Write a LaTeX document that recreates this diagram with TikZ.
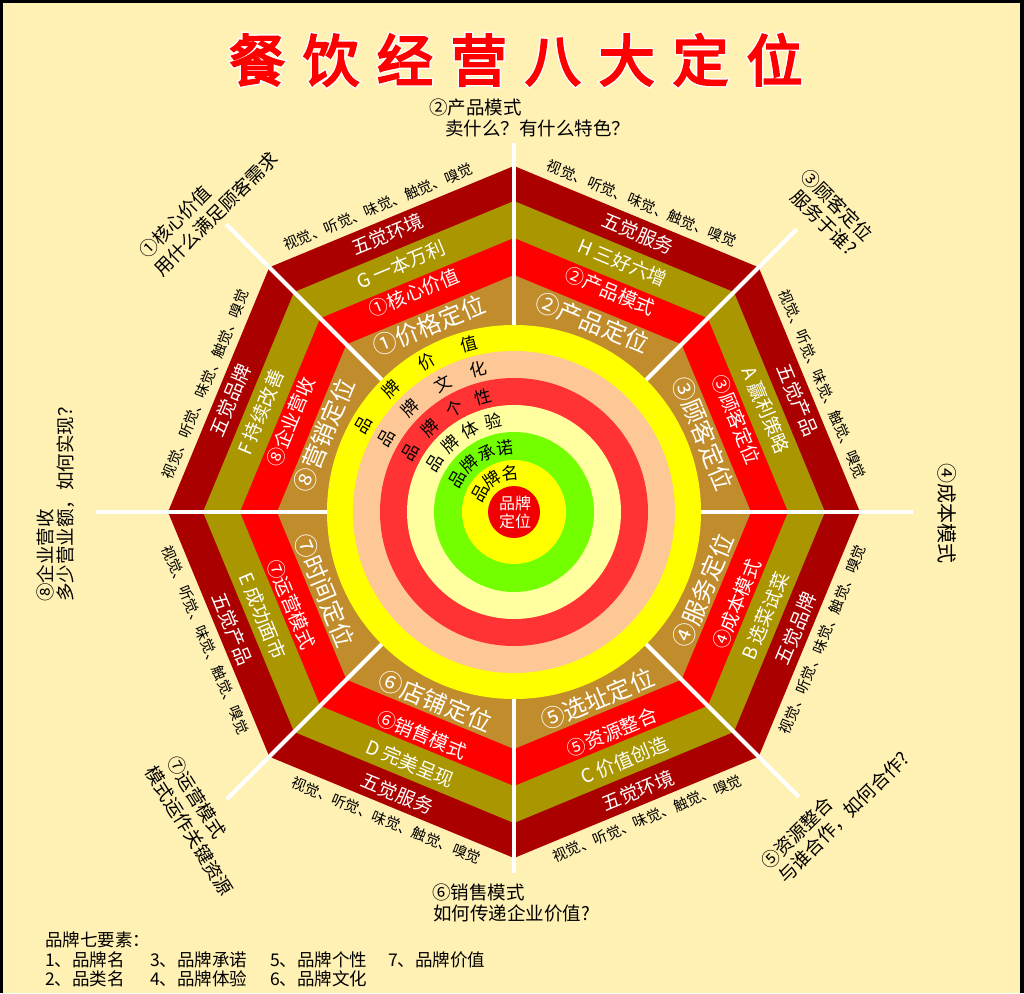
\documentclass[tikz,border=0pt]{standalone}
\usepackage{fontspec}
\usepackage{tikz}
\newfontfamily\cjk{Noto Sans CJK SC}
\newfontfamily\cjktitle{Noto Sans CJK SC}[FakeBold=4,LetterSpace=32]
\newfontfamily\cjkrim{Noto Sans CJK SC}[FakeBold=9,LetterSpace=32]

\definecolor{bg_cream}{RGB}{255,240,180}
\definecolor{band_dark}{RGB}{170,0,0}
\definecolor{band_olive}{RGB}{170,150,0}
\definecolor{band_red}{RGB}{255,0,0}
\definecolor{band_tan}{RGB}{193,140,44}
\definecolor{ring_yellow}{RGB}{255,255,0}
\definecolor{ring_peach}{RGB}{253,200,150}
\definecolor{ring_red}{RGB}{255,51,51}
\definecolor{ring_pale}{RGB}{255,255,160}
\definecolor{ring_green}{RGB}{115,255,0}
\definecolor{core_red}{RGB}{240,0,0}

\begin{document}
\begin{tikzpicture}[x=1pt, y=1pt,
        band_text/.style={text=white, inner sep=0pt, font=\cjk\fontsize{19}{19}\selectfont},
        tan_text/.style={text=white, inner sep=0pt, font=\cjk\fontsize{24}{24}\selectfont},
        sense_text/.style={text=black, inner sep=0pt, font=\cjk\fontsize{14.5}{15}\selectfont},
        ring_text/.style={text=black, inner sep=0pt, font=\cjk\fontsize{17}{17}\selectfont},
        label_text/.style={text=black, inner sep=0pt, anchor=west, font=\cjk\fontsize{18.5}{19}\selectfont},
        list_text/.style={text=black, inner sep=0pt, anchor=west, font=\cjk\fontsize{17.5}{18}\selectfont},
        spoke_style/.style={draw=white, line width=4pt}]

        \useasboundingbox (-514,-481) rectangle (510,512);
        \fill [black] (-514,-481) rectangle (510,512);
        \fill [bg_cream] (-511,-481) rectangle (506,509);

        % title
        \node [inner sep=0pt, anchor=west, text=white, font=\cjkrim\fontsize{56}{56}\selectfont] (title_rim) at (-285,452) {餐饮经营八大定位};
        \node [inner sep=0pt, anchor=west, text=red, font=\cjktitle\fontsize{56}{56}\selectfont] (title) at (-285,452) {餐饮经营八大定位};

        % octagon bands
        \fill [band_dark] (0:346) -- (45:346) -- (90:346) -- (135:346) -- (180:346) -- (225:346) -- (270:346) -- (315:346) -- cycle;
        \fill [band_olive] (0:311) -- (45:311) -- (90:311) -- (135:311) -- (180:311) -- (225:311) -- (270:311) -- (315:311) -- cycle;
        \fill [band_red] (0:274) -- (45:274) -- (90:274) -- (135:274) -- (180:274) -- (225:274) -- (270:274) -- (315:274) -- cycle;
        \fill [band_tan] (0:237) -- (45:237) -- (90:237) -- (135:237) -- (180:237) -- (225:237) -- (270:237) -- (315:237) -- cycle;

        % spokes
        \draw [spoke_style] (0:180) -- (0:399);
        \draw [spoke_style] (45:180) -- (45:400);
        \draw [spoke_style] (90:180) -- (90:369);
        \draw [spoke_style] (135:180) -- (135:407);
        \draw [spoke_style] (180:180) -- (180:418);
        \draw [spoke_style] (225:180) -- (225:406);
        \draw [spoke_style] (270:180) -- (270:361);
        \draw [spoke_style] (315:180) -- (315:403);

        % rings
        \fill [ring_yellow] (0,0) circle (187);
        \fill [ring_peach] (0,0) circle (161);
        \fill [ring_red] (0,0) circle (134);
        \fill [ring_pale] (0,0) circle (107);
        \fill [ring_green] (0,0) circle (80);
        \fill [ring_yellow] (0,0) circle (52);
        \fill [core_red] (0,0) circle (26);

        % band texts
        \node [sense_text, rotate=22.5] (sense1) at (114:334) {视觉、听觉、味觉、触觉、嗅觉};
        \node [band_text, rotate=22.5] (dark1) at (114.5:305) {五觉环境};
        \node [band_text, rotate=22.5] (olive1) at (114.5:272) {G 一本万利};
        \node [band_text, rotate=22.5] (red1) at (114.5:241) {①核心价值};
        \node [tan_text, rotate=22.5] (tan1) at (114.5:205) {①价格定位};

        \node [sense_text, rotate=-22.5] (sense2) at (67.5:334) {视觉、听觉、味觉、触觉、嗅觉};
        \node [band_text, rotate=-22.5] (dark2) at (66:305) {五觉服务};
        \node [band_text, rotate=-22.5] (olive2) at (66.5:272) {H 三好六增};
        \node [band_text, rotate=-22.5] (red2) at (66.5:241) {②产品模式};
        \node [tan_text, rotate=-22.5] (tan2) at (67.5:205) {②产品定位};

        \node [sense_text, rotate=-67.5] (sense3) at (22.5:334) {视觉、听觉、味觉、触觉、嗅觉};
        \node [band_text, rotate=-67.5] (dark3) at (21.5:305) {五觉产品};
        \node [band_text, rotate=-67.5] (olive3) at (22:272) {A 赢利策略};
        \node [band_text, rotate=-67.5] (red3) at (22.5:241) {③顾客定位};
        \node [tan_text, rotate=-67.5] (tan3) at (22.5:205) {③顾客定位};

        \node [sense_text, rotate=67.5] (sense4) at (-22.5:334) {视觉、听觉、味觉、触觉、嗅觉};
        \node [band_text, rotate=67.5] (dark4) at (-22.5:305) {五觉品牌};
        \node [band_text, rotate=67.5] (olive4) at (-22.5:272) {B 选菜试菜};
        \node [band_text, rotate=67.5] (red4) at (-22.5:241) {④成本模式};
        \node [tan_text, rotate=67.5] (tan4) at (-22.5:205) {④服务定位};

        \node [sense_text, rotate=22.5] (sense5) at (-66.5:334) {视觉、听觉、味觉、触觉、嗅觉};
        \node [band_text, rotate=22.5] (dark5) at (-66:305) {五觉环境};
        \node [band_text, rotate=22.5] (olive5) at (-66:272) {C 价值创造};
        \node [band_text, rotate=22.5] (red5) at (-66:241) {⑤资源整合};
        \node [tan_text, rotate=22.5] (tan5) at (-66:205) {⑤选址定位};

        \node [sense_text, rotate=-22.5] (sense6) at (-112.5:334) {视觉、听觉、味觉、触觉、嗅觉};
        \node [band_text, rotate=-22.5] (dark6) at (-112.5:305) {五觉服务};
        \node [band_text, rotate=-22.5] (olive6) at (-112.5:272) {D 完美呈现};
        \node [band_text, rotate=-22.5] (red6) at (-112.5:241) {⑥销售模式};
        \node [tan_text, rotate=-22.5] (tan6) at (-112.5:205) {⑥店铺定位};

        \node [sense_text, rotate=-67.5] (sense7) at (-157.5:334) {视觉、听觉、味觉、触觉、嗅觉};
        \node [band_text, rotate=-67.5] (dark7) at (-157.5:305) {五觉产品};
        \node [band_text, rotate=-67.5] (olive7) at (-157.5:272) {E 成功面市};
        \node [band_text, rotate=-67.5] (red7) at (-157.5:241) {⑦运营模式};
        \node [tan_text, rotate=-67.5] (tan7) at (-157.5:205) {⑦时间定位};

        \node [sense_text, rotate=67.5] (sense8) at (157.5:334) {视觉、听觉、味觉、触觉、嗅觉};
        \node [band_text, rotate=67.5] (dark8) at (158.5:305) {五觉品牌};
        \node [band_text, rotate=67.5] (olive8) at (158.5:272) {F 持续改善};
        \node [band_text, rotate=67.5] (red8) at (158:241) {⑧企业营收};
        \node [tan_text, rotate=67.5] (tan8) at (158:205) {⑧营销定位};

        % ring texts
        \node [ring_text, rotate=60] (val1) at (150:174) {品};
        \node [ring_text, rotate=45] (val2) at (135:174) {牌};
        \node [ring_text, rotate=30] (val3) at (120:174) {价};
        \node [ring_text, rotate=15] (val4) at (105:174) {值};

        \node [ring_text, rotate=60] (cul1) at (150:147) {品};
        \node [ring_text, rotate=45] (cul2) at (135:147) {牌};
        \node [ring_text, rotate=29] (cul3) at (119:147) {文};
        \node [ring_text, rotate=14] (cul4) at (104:147) {化};

        \node [ring_text, rotate=60] (per1) at (150:119) {品};
        \node [ring_text, rotate=45] (per2) at (135:119) {牌};
        \node [ring_text, rotate=30] (per3) at (120:119) {个};
        \node [ring_text, rotate=15] (per4) at (105:119) {性};

        \node [ring_text, rotate=58] (exp1) at (148:93) {品};
        \node [ring_text, rotate=43] (exp2) at (133:93) {牌};
        \node [ring_text, rotate=28] (exp3) at (118:93) {体};
        \node [ring_text, rotate=13] (exp4) at (103:93) {验};

        \node [ring_text, rotate=60] (pro1) at (150:65) {品};
        \node [ring_text, rotate=43] (pro2) at (133:65) {牌};
        \node [ring_text, rotate=25] (pro3) at (115:65) {承};
        \node [ring_text, rotate=8] (pro4) at (98:65) {诺};

        \node [ring_text, rotate=61] (nam1) at (151:39) {品};
        \node [ring_text, rotate=34] (nam2) at (124:39) {牌};
        \node [ring_text, rotate=6] (nam3) at (96:39) {名};

        \node [text=white, inner sep=0pt, align=center, font=\cjk\fontsize{16}{18}\selectfont] (core) at (1,0) {品牌\\定位};

        % outer labels
        \node [label_text] (lab2a) at (-85,405) {②产品模式};
        \node [label_text] (lab2b) at (-69,384) {卖什么？有什么特色？};
        \node [label_text, rotate=-45] (lab3a) at (290,340) {③顾客定位};
        \node [label_text, rotate=-45] (lab3b) at (280.5,318.5) {服务于谁?};
        \node [label_text, rotate=-90, font=\cjk\fontsize{20}{20}\selectfont] (lab4) at (433,49) {④成本模式};
        \node [label_text, rotate=45] (lab5a) at (250,-354) {⑤资源整合};
        \node [label_text, rotate=45] (lab5b) at (267.5,-367.5) {与谁合作，如何合作?};
        \node [label_text] (lab6a) at (-82,-380) {⑥销售模式};
        \node [label_text] (lab6b) at (-81,-401) {如何传递企业价值?};
        \node [label_text, rotate=-58] (lab7a) at (-342,-246) {⑦运营模式};
        \node [label_text, rotate=-58] (lab7b) at (-364,-256) {模式运作关键资源};
        \node [label_text, rotate=90] (lab8a) at (-469,-90) {⑧企业营收};
        \node [label_text, rotate=90] (lab8b) at (-448,-90) {多少营业额，如何实现？};
        \node [label_text, rotate=45] (lab1a) at (-372,257) {①核心价值};
        \node [label_text, rotate=45] (lab1b) at (-357,239) {用什么满足顾客需求};

        % brand elements list
        \node [list_text] (list_head) at (-469,-428) {品牌七要素：};
        \node [list_text] (list_row1) at (-469,-448) {\makebox[105pt][l]{1、品牌名}\makebox[120pt][l]{3、品牌承诺}\makebox[118pt][l]{5、品牌个性}7、品牌价值};
        \node [list_text] (list_row2) at (-469,-467) {\makebox[105pt][l]{2、品类名}\makebox[120pt][l]{4、品牌体验}6、品牌文化};

        \end{tikzpicture}
\end{document}
